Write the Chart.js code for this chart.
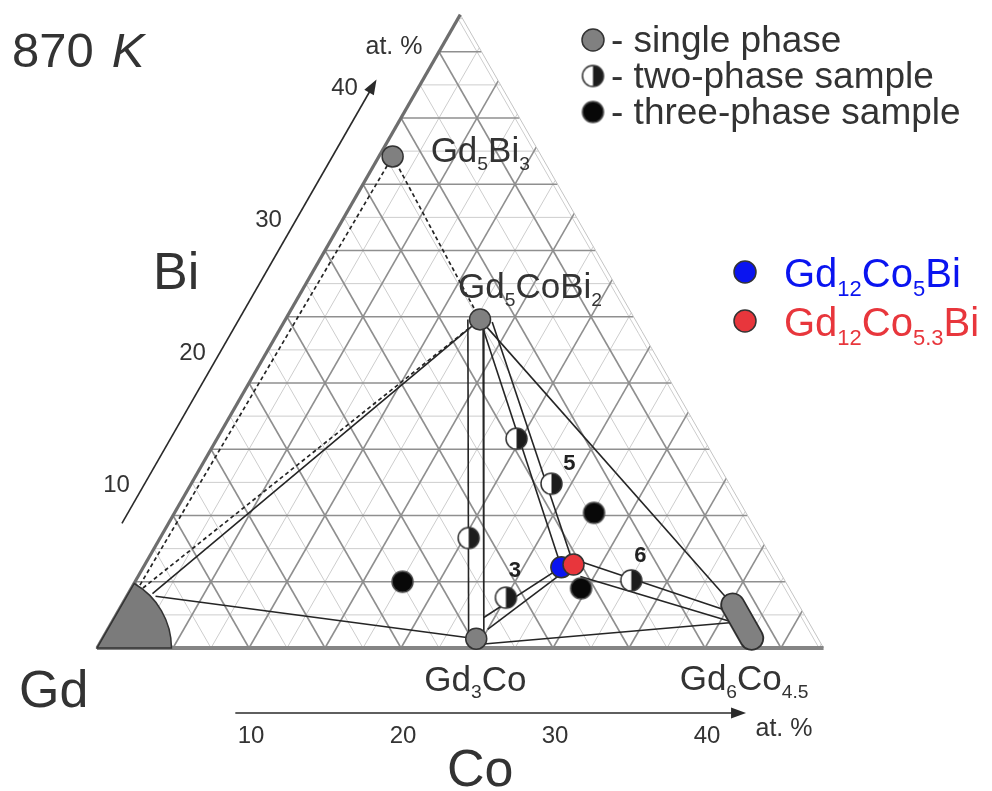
<!DOCTYPE html>
<html>
<head>
<meta charset="utf-8">
<title>Gd–Co–Bi isothermal section, 870 K</title>
<script src="https://cdn.jsdelivr.net/npm/chart.js@4.4.1/dist/chart.umd.min.js"></script>
<style>
  html, body { margin: 0; padding: 0; background: #fff; }
  #wrap { width: 992px; height: 791px; }
</style>
</head>
<body>
<div id="wrap"><canvas id="c" width="992" height="791"></canvas></div>
<script>
// ---- composition data (at.% Co, at.% Bi; Gd is the balance) ----
const sideMax = 47.8;            // extent of the drawn Gd-rich corner
const gridStep = 2.5;

const singleNames = ['Gd5Bi3', 'Gd5CoBi2', 'Gd3Co'];
const singleCo = [0.9, 12.8, 24.6];
const singleBi = [37.1, 24.8, 0.7];

// Gd6Co4.5 homogeneity range (ends of the band)
const bandName = 'Gd6Co4.5';
const bandCo = [40.2, 42.7];
const bandBi = [3.25, 0.74];

const twoCo = [19.7, 23.7, 20.3, 25.0, 32.6];
const twoBi = [15.8, 12.4, 8.3, 3.8, 5.1];
const twoTags = ['', '5', '', '3', '6'];

const threeCo = [27.6, 17.6, 29.6];
const threeBi = [10.2, 5.0, 4.5];

const newNames = ['Gd12Co5Bi', 'Gd12Co5.3Bi'];
const newCo = [27.5, 28.2];
const newBi = [6.1, 6.3];

// Gd-based solid solution (radius in at.%)
const gdSolidR = 4.9;

// tie lines: [Co1, Bi1, Co2, Bi2]
const tieSolid = [
  [1.6, 4.1, 12.8, 24.8],
  [1.9, 3.9, 24.6, 0.7],
  [12.0, 24.8, 24.1, 0.7],
  [13.0, 24.8, 25.1, 0.7],
  [12.8, 24.8, 27.5, 6.1],
  [13.7, 24.6, 28.2, 6.3],
  [12.8, 24.8, 40.2, 3.25],
  [24.3, 2.3, 27.5, 6.1],
  [25.0, 1.4, 28.2, 6.3],
  [25.3, 0.3, 41.2, 1.96],
  [28.3, 6.6, 40.7, 2.6],
  [29.1, 5.4, 41.0, 1.9]
];
const tieDashed = [
  [0.45, 4.75, 0.9, 37.1],
  [0.76, 4.53, 12.8, 24.8],
  [0.9, 37.1, 12.8, 24.8]
];

const axisTicks = [10, 20, 30, 40];
const legendLabels = ['- single phase', '- two-phase sample', '- three-phase sample'];

// ---- helpers ----
const FONT = '"Liberation Sans", Arial, Helvetica, sans-serif';
const INK = '#333';
const xy = (co, bi) => ({ x: co + bi / 2, y: bi });

function markerCanvas(r, kind) {
  const s = Math.ceil(r * 2 + 4), m = s / 2;
  const c = document.createElement('canvas');
  c.width = s; c.height = s;
  const g = c.getContext('2d');
  g.beginPath(); g.arc(m, m, r, 0, Math.PI * 2);
  g.fillStyle = kind === 'half' ? '#fff' : '#080808'; g.fill();
  if (kind === 'half') {
    g.beginPath(); g.arc(m, m, r, -Math.PI / 2, Math.PI / 2); g.closePath();
    g.fillStyle = '#1c1c1c'; g.fill();
  }
  g.beginPath(); g.arc(m, m, r, 0, Math.PI * 2);
  g.strokeStyle = kind === 'half' ? '#333' : '#4a4a4a'; g.lineWidth = 1.5; g.stroke();
  return c;
}
const halfMark = markerCanvas(10.5, 'half');
const fullMark = markerCanvas(10.5, 'full');

function formulaParts(str) {
  const out = [];
  str.replace(/([A-Z][a-z]?)|([\d.]+)/g, (m, el, num) => { out.push([m, !!num]); return m; });
  return out;
}
function drawFormula(ctx, str, x, y, size, color) {
  ctx.save();
  ctx.fillStyle = color; ctx.textAlign = 'left'; ctx.textBaseline = 'alphabetic';
  let cx = x;
  for (const [t, sub] of formulaParts(str)) {
    const fs = sub ? size * 0.55 : size;
    ctx.font = `${fs}px ${FONT}`;
    ctx.fillText(t, cx, y + (sub ? size * 0.22 : 0));
    cx += ctx.measureText(t).width;
  }
  ctx.restore();
}
function text(ctx, str, x, y, size, opts = {}) {
  ctx.save();
  ctx.font = `${opts.style || ''} ${opts.weight || ''} ${size}px ${FONT}`;
  ctx.fillStyle = opts.color || INK;
  ctx.textAlign = opts.align || 'left';
  ctx.textBaseline = opts.baseline || 'alphabetic';
  ctx.fillText(str, x, y);
  ctx.restore();
}
function arrow(ctx, x1, y1, x2, y2) {
  const a = Math.atan2(y2 - y1, x2 - x1), L = 15, W = 5.5;
  ctx.save();
  ctx.strokeStyle = '#2a2a2a'; ctx.fillStyle = '#2a2a2a'; ctx.lineWidth = 1.6;
  ctx.beginPath(); ctx.moveTo(x1, y1);
  ctx.lineTo(x2 - Math.cos(a) * L * 0.8, y2 - Math.sin(a) * L * 0.8); ctx.stroke();
  ctx.beginPath(); ctx.moveTo(x2, y2);
  ctx.lineTo(x2 - Math.cos(a) * L + Math.sin(a) * W, y2 - Math.sin(a) * L - Math.cos(a) * W);
  ctx.lineTo(x2 - Math.cos(a) * L - Math.sin(a) * W, y2 - Math.sin(a) * L + Math.cos(a) * W);
  ctx.closePath(); ctx.fill();
  ctx.restore();
}

// ---- ternary frame, grid, Gd corner and annotations ----
const ternaryPlugin = {
  id: 'ternary',
  beforeDatasetsDraw(chart) {
    const { ctx, scales: { x, y } } = chart;
    const P = (co, bi) => [x.getPixelForValue(co + bi / 2), y.getPixelForValue(bi)];
    const seg = (a, b) => { ctx.beginPath(); ctx.moveTo(...a); ctx.lineTo(...b); ctx.stroke(); };

    ctx.save();
    ctx.lineCap = 'butt';
    for (const pass of ['light', 'mid']) {
      ctx.strokeStyle = pass === 'light' ? '#cdcdcd' : '#8f8f8f';
      ctx.lineWidth = pass === 'light' ? 1 : 1.6;
      for (let v = gridStep; v < sideMax; v += gridStep) {
        const isMid = Math.abs(v % 5) < 1e-6;
        if ((pass === 'mid') !== isMid) continue;
        seg(P(0, v), P(sideMax - v, v));       // constant Bi
        seg(P(v, 0), P(v, sideMax - v));       // constant Co
        seg(P(v, 0), P(0, v));                 // constant Gd
      }
    }
    // outer edge on the Co/Bi-rich side
    ctx.strokeStyle = '#c4c4c4'; ctx.lineWidth = 1;
    seg(P(sideMax, 0), P(0, sideMax));
    // Gd–Bi and Gd–Co edges
    ctx.strokeStyle = '#6e6e6e'; ctx.lineWidth = 3.2;
    seg(P(0, 0), P(0, sideMax));
    ctx.strokeStyle = '#858585'; ctx.lineWidth = 4;
    seg(P(0, 0), P(sideMax, 0));

    // Gd solid solution
    const [cx, cy] = P(0, 0);
    const r = x.getPixelForValue(gdSolidR) - x.getPixelForValue(0);
    ctx.beginPath(); ctx.moveTo(cx, cy);
    ctx.arc(cx, cy, r, 0, -Math.PI / 3, true); ctx.closePath();
    ctx.fillStyle = '#7b7b7b'; ctx.fill();
    ctx.strokeStyle = '#333'; ctx.lineWidth = 1.5; ctx.stroke();
    ctx.restore();
  },
  afterDatasetsDraw(chart) {
    const { ctx, scales: { x, y } } = chart;
    const P = (co, bi) => [x.getPixelForValue(co + bi / 2), y.getPixelForValue(bi)];

    // title
    ctx.save();
    ctx.fillStyle = INK;
    ctx.font = `49px ${FONT}`; ctx.textBaseline = 'alphabetic';
    ctx.fillText('870', 12, 67);
    const w = ctx.measureText('870').width;
    ctx.font = `italic 49px ${FONT}`;
    ctx.fillText('K', 12 + w + 18, 67);
    ctx.restore();

    // component names
    text(ctx, 'Bi', 153, 289, 52);
    text(ctx, 'Gd', 19, 707, 52);
    text(ctx, 'Co', 447, 786, 52);

    // Bi axis arrow and ticks
    const arrowCo = -3.06;
    const a0 = P(arrowCo, 9.4), a1 = P(arrowCo, 42.9);
    arrow(ctx, a0[0], a0[1], a1[0], a1[1]);
    for (const v of axisTicks) {
      const [px, py] = P(arrowCo, v);
      text(ctx, String(v), px - 10, py - 30, 24, { align: 'center', baseline: 'middle' });
    }
    text(ctx, 'at. %', 394, 47, 25, { align: 'center', baseline: 'middle' });

    // Co axis arrow and ticks
    const by = y.getPixelForValue(-4.9);
    arrow(ctx, x.getPixelForValue(9.1), by, x.getPixelForValue(42.7), by);
    for (const v of axisTicks) {
      text(ctx, String(v), x.getPixelForValue(v) + 2, by + 23, 24, { align: 'center', baseline: 'middle' });
    }
    text(ctx, 'at. %', 784, by + 16, 25, { align: 'center', baseline: 'middle' });

    // phase labels
    const offs = [[38, 6], [-22, -21], [-52, 52]];
    singleNames.forEach((n, i) => {
      const [px, py] = P(singleCo[i], singleBi[i]);
      drawFormula(ctx, n, px + offs[i][0], py + offs[i][1], 35, INK);
    });
    {
      const [px, py] = P(bandCo[1], bandBi[1]);
      drawFormula(ctx, bandName, px - 72, py + 52, 35, INK);
    }

    // sample numbers
    const tagOff = { '5': [18, -20], '3': [9, -27], '6': [9, -24] };
    twoTags.forEach((t, i) => {
      if (!t) return;
      const [px, py] = P(twoCo[i], twoBi[i]);
      text(ctx, t, px + tagOff[t][0], py + tagOff[t][1], 22, { weight: 'bold', align: 'center', baseline: 'middle', color: '#222' });
    });

    // symbol legend
    const lx = 593, ly = [40, 76, 112];
    ctx.save();
    ctx.beginPath(); ctx.arc(lx, ly[0], 11, 0, Math.PI * 2);
    ctx.fillStyle = '#808080'; ctx.fill(); ctx.strokeStyle = '#333'; ctx.lineWidth = 1.5; ctx.stroke();
    ctx.drawImage(halfMark, lx - halfMark.width / 2, ly[1] - halfMark.height / 2);
    ctx.drawImage(fullMark, lx - fullMark.width / 2, ly[2] - fullMark.height / 2);
    ctx.restore();
    legendLabels.forEach((s, i) => text(ctx, s, 611, ly[i] + 12, 37));

    // new phases legend
    const nc = ['#0a14f0', '#e8363c'];
    const ny = [272, 321];
    newNames.forEach((n, i) => {
      ctx.save();
      ctx.beginPath(); ctx.arc(745, ny[i], 11, 0, Math.PI * 2);
      ctx.fillStyle = nc[i]; ctx.fill(); ctx.strokeStyle = '#333'; ctx.lineWidth = 1.5; ctx.stroke();
      ctx.restore();
      drawFormula(ctx, n, 784, ny[i] + 15, 40, nc[i]);
    });
  }
};

// ---- datasets ----
const lineSet = (seg, dashed) => ({
  type: 'scatter',
  data: [xy(seg[0], seg[1]), xy(seg[2], seg[3])],
  showLine: true, borderColor: '#252525', borderWidth: dashed ? 1.7 : 1.6,
  borderDash: dashed ? [4, 3] : [], pointRadius: 0, order: 10
});

const datasets = [
  ...tieSolid.map(s => lineSet(s, false)),
  ...tieDashed.map(s => lineSet(s, true)),
  { // Gd6Co4.5 band outline
    data: bandCo.map((c, i) => xy(c, bandBi[i])), showLine: true,
    borderColor: '#2e2e2e', borderWidth: 25, borderCapStyle: 'round', pointRadius: 0, order: 6
  },
  { // Gd6Co4.5 band fill
    data: bandCo.map((c, i) => xy(c, bandBi[i])), showLine: true,
    borderColor: '#808080', borderWidth: 21.5, borderCapStyle: 'round', pointRadius: 0, order: 5
  },
  {
    label: 'single phase', data: singleCo.map((c, i) => xy(c, singleBi[i])),
    pointRadius: 10.5, pointBackgroundColor: '#808080', pointBorderColor: '#333', pointBorderWidth: 1.5, order: 2
  },
  {
    label: 'two-phase sample', data: twoCo.map((c, i) => xy(c, twoBi[i])),
    pointStyle: halfMark, order: 2
  },
  {
    label: 'three-phase sample', data: threeCo.map((c, i) => xy(c, threeBi[i])),
    pointStyle: fullMark, order: 2
  },
  {
    label: newNames[0], data: [xy(newCo[0], newBi[0])],
    pointRadius: 10.5, pointBackgroundColor: '#0a14f0', pointBorderColor: '#333', pointBorderWidth: 1.5, order: 1.5
  },
  {
    label: newNames[1], data: [xy(newCo[1], newBi[1])],
    pointRadius: 10.5, pointBackgroundColor: '#e8363c', pointBorderColor: '#333', pointBorderWidth: 1.5, order: 1
  }
];

// pixel scale: 15.2 px per at.% horizontally, 13.25 px per at.% Bi vertically; Gd corner at (97, 648)
const W = 992, H = 791;
new Chart(document.getElementById('c'), {
  type: 'scatter',
  data: { datasets },
  options: {
    responsive: false,
    devicePixelRatio: 1,
    animation: false,
    layout: { padding: 0, autoPadding: false },
    plugins: { legend: { display: false }, tooltip: { enabled: false }, title: { display: false } },
    scales: {
      x: { type: 'linear', display: false, min: -97 / 15.2, max: (W - 97) / 15.2 },
      y: { type: 'linear', display: false, min: -(H - 648) / 13.25, max: 648 / 13.25 }
    }
  },
  plugins: [ternaryPlugin]
});
</script>
</body>
</html>
